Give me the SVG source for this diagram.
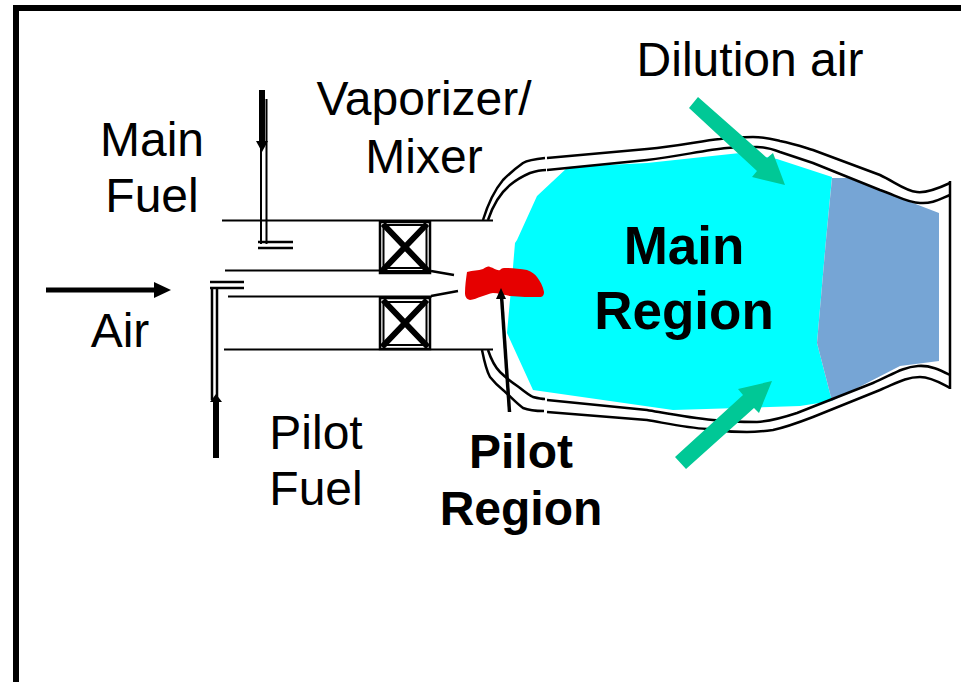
<svg xmlns="http://www.w3.org/2000/svg" width="961" height="682" viewBox="0 0 961 682">
<style>
text{font-family:"Liberation Sans",Arial,sans-serif;font-size:48px;fill:#000;text-anchor:middle}
.b{font-weight:bold}
.big{font-size:53px}
.l{fill:none;stroke:#000;stroke-width:2.500}
.t{fill:none;stroke:#000;stroke-width:2}
.x{fill:none;stroke:#000;stroke-width:6}
.g{fill:#00c896}
</style>
<rect width="961" height="682" fill="#fff"/>
<g id="frame"><path d="M16 682V8H961" fill="none" stroke="#000" stroke-width="6"/></g>
<g id="main-region-shape"><polygon points="568,167 647,163 740,153 777,159 832,177 826,240 817,343 832,401 800,406 673,410 533,390 507,333 513,267 515,243 517,240 537,196" fill="#00ffff"/></g>
<g id="dilution-zone"><polygon points="832,178 848,178 939,213 939,361 900,366 832,401 817,343 826,240" fill="#76a5d5"/></g>
<g id="liner">
<path class="l" d="M483,220C487,207 493,192 503,180C510,173 516,168 523,163C528,160 535,159 545,158"/>
<path class="l" d="M547,158L647,149C680,146 700,141 720,139C735,137 745,137 753,137C765,137 772,139 780,141C795,144 803,147 813,150L880,175C895,182 905,191 917,192C925,193 935,190 950,183"/>
<path class="l" d="M488,220C492,208 498,195 510,185C516,180 523,176 530,173C536,171 541,170 546,170"/>
<path class="l" d="M547,170L647,160C680,156 705,150 727,148C740,147 748,147 757,147C765,147 772,149 780,152L813,163L880,190C895,195 908,203 920,203C932,204 940,199 950,195"/>
<path class="l" d="M488,350C491,359 495,367 500,372C507,379 513,383 520,388C525,392 529,395 533,397C537,398 541,399 545,399"/>
<path class="l" d="M547,400L647,410C670,414 690,418 713,420C730,422 745,422 757,422C772,421 785,417 797,413L873,383C890,376 902,367 918,366C930,365 940,370 950,375"/>
<path class="l" d="M482,350C484,360 486,370 490,377C494,382 498,386 503,390C510,396 516,403 523,408C528,410 535,411 544,411"/>
<path class="l" d="M547,412L647,420C670,424 688,428 707,429C720,431 735,432 747,432C757,432 765,431 773,430C787,427 800,422 813,417L880,390C895,384 905,377 920,377C932,377 942,384 950,388"/>
<path class="l" d="M950,181V389"/>
</g>
<g id="duct">
<path class="t" d="M222,220.500H493M225,270.500H380M228,296.500H432M224,349.500H493"/>
<path class="l" d="M431,271L454,275M431,296L458,291"/>
</g>
<g id="swirler-top">
<rect x="380" y="222" width="50" height="51" class="l"/><rect x="383.500" y="225" width="43" height="43" class="t"/>
<path class="x" d="M383,224L428,271M427,224L382,271"/><path d="M379,272H431" stroke="#000" stroke-width="4"/>
</g>
<g id="swirler-bottom">
<rect x="380" y="298" width="50" height="51" class="l"/><rect x="383.500" y="302" width="43" height="43" class="t"/>
<path class="x" d="M383,300L428,347M427,300L382,347"/>
</g>
<g id="pilot-flame"><path d="M467,272C473,270 478,271 483,269C486,267 488,266 490,267C494,268 497,271 500,270C502,268 503,268 506,268C513,268 520,269 527,270C532,272 535,274 537,277C540,281 543,286 544,292C544,296 542,297 540,297C530,297 520,297 510,296C504,295 498,293 493,293C486,294 477,299 470,300C466,299 465,296 465,293C465,286 466,279 467,272Z" fill="#e60000"/></g>
<g id="connectors">
<path class="t" d="M261,100V244M266.500,99V244"/>
<path class="l" d="M258,242H293M258,248H293"/>
<path d="M262,90V146" stroke="#000" stroke-width="6" fill="none"/>
<path d="M256,141L268,141L262,152Z"/>
<path class="l" d="M210,282H244M210,288H244M212,288V400M217,288V400"/>
<path d="M216,458V398" stroke="#000" stroke-width="6" fill="none"/>
<path d="M210,402L222,402L216,394Z"/>
<path d="M46,290H158" stroke="#000" stroke-width="5" fill="none"/>
<path d="M154,282L171,290L154,298Z"/>
<path d="M509.500,412L501.500,296" stroke="#000" stroke-width="3.500" fill="none"/>
<path d="M496,299L506,299L501,288Z"/>
<polygon class="g" points="689,108 698,97 767,158 773,153 785,185 752,177 757,171"/>
<polygon class="g" points="675,457 686,469 754,408 759,413 772,381 738,389 743,395"/>
</g>
<g id="labels">
<text x="750" y="76">Dilution air</text>
<text x="152" y="156">Main</text><text x="152" y="212">Fuel</text>
<text x="120" y="347">Air</text>
<text x="424" y="115">Vaporizer/</text><text x="424" y="173">Mixer</text>
<text x="316" y="449">Pilot</text><text x="316" y="505">Fuel</text>
<text class="b" x="521" y="468">Pilot</text><text class="b" x="521" y="525">Region</text>
<text class="b big" x="684" y="264">Main</text><text class="b big" x="684" y="329">Region</text>
</g>
</svg>
